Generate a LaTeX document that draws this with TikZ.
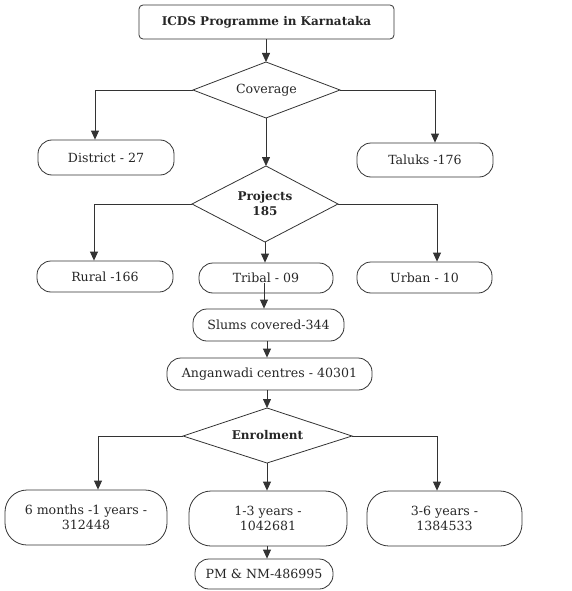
\documentclass[tikz,border=0pt]{standalone}
\usepackage{fontspec}
\setmainfont{DejaVu Serif}
\usetikzlibrary{arrows.meta,shapes.geometric}
\begin{document}
\begin{tikzpicture}[x=1pt,y=-1pt,
  every node/.style={font=\fontsize{12.6}{15}\selectfont, text=black!85, inner sep=0pt, align=center},
  bfont/.style={font=\fontsize{12}{15}\selectfont\bfseries},
  pill/.style={draw=black!80, line width=0.8pt, rounded corners=14pt},
  bigpill/.style={draw=black!80, line width=0.8pt, rounded corners=22pt},
  headbox/.style={draw=black!80, line width=0.8pt, rounded corners=4pt},
  diaedge/.style={draw=black!80, line width=0.8pt},
  conn/.style={draw=black!80, line width=0.8pt, -{Triangle[length=9pt,width=8pt]}}
]
\useasboundingbox (0,0) rectangle (572,591);
\node[headbox, bfont, minimum width=255pt, minimum height=34pt] (top) at (266.5,22) {ICDS Programme in Karnataka};

\node[minimum width=147pt, minimum height=56pt] (cov) at (266.5,90) {Coverage};
\coordinate (covL) at (193,90);
\coordinate (covR) at (340,90);
\coordinate (covT) at (266,62);
\coordinate (covB) at (266,118);
\draw[diaedge] (covL) -- (covT) -- (covR) -- (covB) -- cycle;

\node[pill, minimum width=136pt, minimum height=35pt] (dist) at (106,157.5) {District - 27};
\node[pill, minimum width=136pt, minimum height=34pt] (tal) at (425,160) {Taluks -176};

\node[bfont, minimum width=146pt, minimum height=76pt] (proj) at (265,204) {Projects\\185};
\coordinate (prL) at (192,204);
\coordinate (prR) at (338,204);
\coordinate (prT) at (266,166);
\coordinate (prB) at (265,242);
\draw[diaedge] (prL) -- (prT) -- (prR) -- (prB) -- cycle;

\node[pill, minimum width=136pt, minimum height=31pt] (rur) at (105,276.5) {Rural -166};
\node[pill, minimum width=134pt, minimum height=30pt] (tri) at (266,278) {Tribal - 09};
\node[pill, minimum width=135pt, minimum height=31pt] (urb) at (424.5,277.5) {Urban - 10};
\node[pill, minimum width=151pt, minimum height=32pt] (slum) at (268.5,325) {Slums covered-344};
\node[pill, minimum width=205pt, minimum height=32pt] (ang) at (269.5,374) {Anganwadi centres - 40301};

\node[bfont, minimum width=169pt, minimum height=55pt] (enr) at (267.5,435.5) {Enrolment};
\coordinate (enL) at (183,436);
\coordinate (enR) at (352,436);
\coordinate (enT) at (267,408);
\coordinate (enB) at (267,463);
\draw[diaedge] (enL) -- (enT) -- (enR) -- (enB) -- cycle;

\node[bigpill, minimum width=162pt, minimum height=55pt] (m6) at (86,517.5) {6 months -1 years -\\312448};
\node[bigpill, minimum width=158pt, minimum height=55pt] (y13) at (268,518.5) {1-3 years -\\1042681};
\node[bigpill, minimum width=155pt, minimum height=55pt] (y36) at (444.5,518.5) {3-6 years -\\1384533};
\node[pill, minimum width=138pt, minimum height=30pt] (pm) at (264,574) {PM \& NM-486995};

% connectors
\draw[conn] (top.south -| covT) -- (covT);
\draw[conn] (covL) -| (95,0 |- dist.north);
\draw[conn] (covR) -| (435,0 |- tal.north);
\draw[conn] (covB) -- (prT);
\draw[conn] (prL) -| (94,0 |- rur.north);
\draw[conn] (prR) -| (437,0 |- urb.north);
\draw[conn] (prB) -- (265,0 |- tri.north);
\coordinate (triIn) at (264,283);
\draw[conn] (triIn) -- (264,0 |- slum.north);
\draw[conn] (267,0 |- slum.south) -- (267,0 |- ang.north);
\draw[conn] (267,0 |- ang.south) -- (enT);
\draw[conn] (enL) -| (98,0 |- m6.north);
\draw[conn] (enR) -| (437,0 |- y36.north);
\draw[conn] (enB) -- (267,0 |- y13.north);
\draw[conn] (267,0 |- y13.south) -- (267,0 |- pm.north);
\end{tikzpicture}
\end{document}
